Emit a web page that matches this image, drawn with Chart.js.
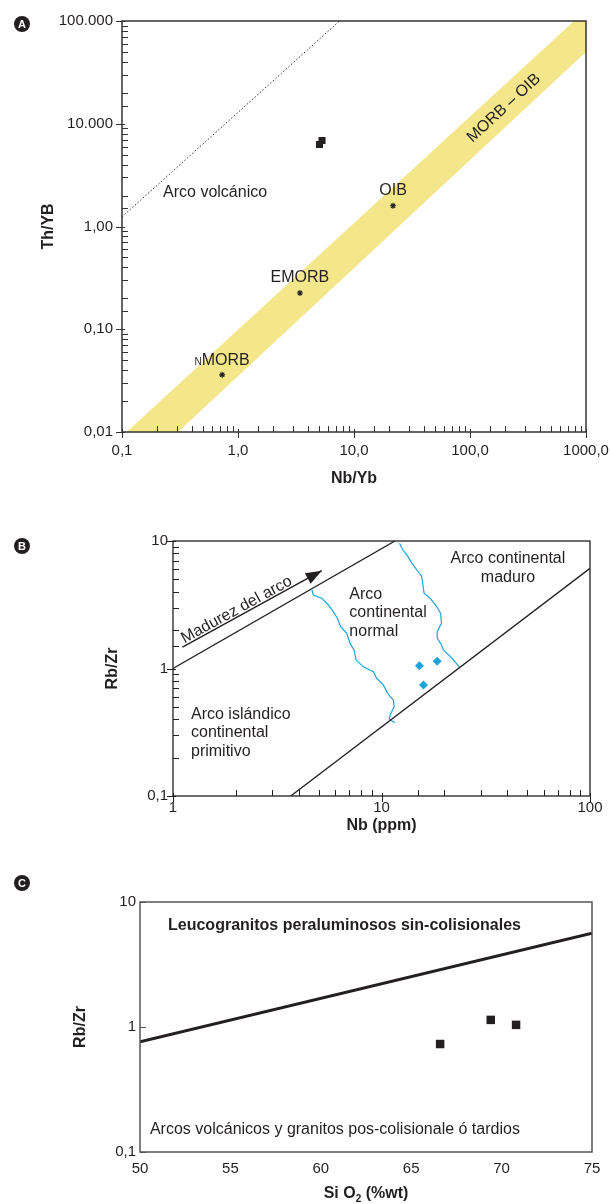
<!DOCTYPE html>
<html>
<head>
<meta charset="utf-8">
<script src="https://cdn.jsdelivr.net/npm/chart.js@4.4.1/dist/chart.umd.min.js"></script>
<style>
  html, body { margin: 0; padding: 0; background: #fff; }
  body { width: 610px; height: 1204px; position: relative; overflow: hidden; }
  canvas { position: absolute; left: 0; }
</style>
</head>
<body>
<canvas id="chartA" width="610" height="500" style="top:0"></canvas>
<canvas id="chartB" width="610" height="340" style="top:500px"></canvas>
<canvas id="chartC" width="610" height="364" style="top:840px"></canvas>
<script>
// ---- Panel A: Th/Yb vs Nb/Yb
const aSamples = [{ x: 5.04, y: 6.28 }, { x: 5.30, y: 6.87 }]
const aRefNames = ['OIB', 'EMORB', 'NMORB']
const aRefPoints = [{ x: 21.7, y: 1.59 }, { x: 3.42, y: 0.225 }, { x: 0.73, y: 0.036 }]
const aBandUpper = [{ x: 0.1, y: 0.0091 }, { x: 1000, y: 128 }]
const aBandLower = [{ x: 0.1, y: 0.0031 }, { x: 1000, y: 50 }]
const aArcLimit = [{ x: 0.1, y: 1.24 }, { x: 7.5, y: 100 }]
const aXTicks = [0.1, 1, 10, 100, 1000]
const aXLabels = ['0,1', '1,0', '10,0', '100,0', '1000,0']
const aYTicks = [0.01, 0.1, 1, 10, 100]
const aYLabels = ['0,01', '0,10', '1,00', '10.000', '100.000']

// ---- Panel B: Rb/Zr vs Nb
const bSamples = [{ x: 15.2, y: 1.05 }, { x: 18.5, y: 1.14 }, { x: 15.9, y: 0.743 }]
const bUpperLine = [{ x: 1, y: 1 }, { x: 11.6, y: 10 }]
const bLowerLine = [{ x: 3.67, y: 0.1 }, { x: 100, y: 6.1 }]
const bArrow = [{ x: 1.11, y: 1.47 }, { x: 5.17, y: 5.85 }]
const bBoundaryNormal = [
  { x: 4.64, y: 4.13 }, { x: 4.71, y: 3.77 }, { x: 5.17, y: 3.56 }, { x: 5.56, y: 3.15 },
  { x: 5.87, y: 2.79 }, { x: 6.14, y: 2.48 }, { x: 6.37, y: 2.13 }, { x: 6.81, y: 1.89 },
  { x: 7.06, y: 1.58 }, { x: 7.38, y: 1.40 }, { x: 7.55, y: 1.17 }, { x: 8.18, y: 1.03 },
  { x: 9.14, y: 0.944 }, { x: 9.48, y: 0.838 }, { x: 10.2, y: 0.743 }, { x: 10.7, y: 0.639 },
  { x: 11.4, y: 0.566 }, { x: 11.5, y: 0.501 }, { x: 11.0, y: 0.431 }, { x: 10.9, y: 0.400 },
  { x: 11.6, y: 0.376 }
]
const bBoundaryMature = [
  { x: 12.2, y: 9.6 }, { x: 12.6, y: 8.61 }, { x: 13.4, y: 7.54 }, { x: 14.0, y: 6.68 },
  { x: 15.0, y: 5.74 }, { x: 15.6, y: 5.25 }, { x: 15.8, y: 4.52 }, { x: 16.0, y: 3.89 },
  { x: 17.1, y: 3.56 }, { x: 18.4, y: 3.06 }, { x: 19.2, y: 2.71 }, { x: 19.4, y: 2.26 },
  { x: 18.5, y: 1.95 }, { x: 18.5, y: 1.73 }, { x: 19.4, y: 1.53 }, { x: 19.8, y: 1.40 },
  { x: 21.3, y: 1.25 }, { x: 22.5, y: 1.13 }, { x: 23.6, y: 1.03 }
]
const bXTicks = [1, 10, 100]
const bXLabels = ['1', '10', '100']
const bYTicks = [0.1, 1, 10]
const bYLabels = ['0,1', '1', '10']

// ---- Panel C: Rb/Zr vs SiO2
const cSamples = [{ x: 66.6, y: 0.731 }, { x: 69.4, y: 1.14 }, { x: 70.8, y: 1.04 }]
const cDivider = [{ x: 50, y: 0.762 }, { x: 75, y: 5.62 }]
const cXTicks = [50, 55, 60, 65, 70, 75]
const cXLabels = ['50', '55', '60', '65', '70', '75']
const cYTicks = [0.1, 1, 10]
const cYLabels = ['0,1', '1', '10']

const FONT = '"Liberation Sans", Arial, Helvetica, sans-serif'
const INK = '#231f20'
const CYAN = '#1ea4dc'

function labelFor(values, labels) {
  return v => {
    const i = values.findIndex(t => Math.abs(t - v) < t * 1e-6)
    return i < 0 ? '' : labels[i]
  }
}

function isDecade(v) {
  const e = Math.log10(v)
  return Math.abs(e - Math.round(e)) < 1e-6
}

function pix(chart, p) {
  return { x: chart.scales.x.getPixelForValue(p.x), y: chart.scales.y.getPixelForValue(p.y) }
}

function put(ctx, str, x, y, font, align, rot) {
  ctx.save()
  ctx.font = font
  ctx.textAlign = align || 'center'
  ctx.textBaseline = 'middle'
  ctx.translate(x, y)
  if (rot) ctx.rotate(rot)
  ctx.fillText(str, 0, 0)
  ctx.restore()
}

// plot box, tick marks, axis titles and the letter badge
function drawFrame(chart, o) {
  const { ctx, chartArea: a, scales: { x, y } } = chart
  ctx.save()
  ctx.strokeStyle = o.color
  ctx.lineWidth = 1
  ctx.beginPath()
  if (o.minor) {
    x.ticks.forEach(t => {
      const px = Math.round(x.getPixelForValue(t.value)) + 0.5
      if (isDecade(t.value)) { ctx.moveTo(px, a.bottom + 6); ctx.lineTo(px, a.bottom - 3) }
      else { ctx.moveTo(px, a.bottom); ctx.lineTo(px, a.bottom - 6) }
    })
    y.ticks.forEach(t => {
      const py = Math.round(y.getPixelForValue(t.value)) + 0.5
      if (isDecade(t.value)) { ctx.moveTo(a.left - 6, py); ctx.lineTo(a.left + 3, py) }
      else { ctx.moveTo(a.left, py); ctx.lineTo(a.left + 6, py) }
    })
  } else {
    y.ticks.forEach(t => {
      if (!isDecade(t.value)) return
      const py = Math.round(y.getPixelForValue(t.value)) + 0.5
      ctx.moveTo(a.left, py); ctx.lineTo(a.left + 6, py)
    })
  }
  ctx.stroke()
  ctx.lineWidth = o.width
  ctx.strokeRect(a.left, a.top, a.right - a.left, a.bottom - a.top)

  ctx.fillStyle = INK
  ctx.beginPath()
  ctx.arc(o.badge.x, o.badge.y, 8, 0, Math.PI * 2)
  ctx.fill()
  ctx.fillStyle = '#fff'
  put(ctx, o.badge.text, o.badge.x, o.badge.y + 0.5, `bold 11px ${FONT}`)

  ctx.fillStyle = INK
  const bold = `bold 16px ${FONT}`
  if (o.xTitle) put(ctx, o.xTitle, (a.left + a.right) / 2, a.bottom + o.xTitleGap, bold)
  put(ctx, o.yTitle, o.yTitleX, (a.top + a.bottom) / 2, bold, 'center', -Math.PI / 2)
  ctx.restore()
}

function axes(xType, xMin, xMax, xTicks, xLabels, xPad, xHeight, yMin, yMax, yTicks, yLabels, yPad, yWidth) {
  const tickFont = { family: FONT, size: 15 }
  const x = {
    type: xType, min: xMin, max: xMax,
    grid: { display: false, drawTicks: false },
    border: { display: false },
    ticks: { autoSkip: false, maxRotation: 0, color: INK, font: tickFont, padding: xPad, callback: labelFor(xTicks, xLabels) },
    afterFit: s => { s.height = xHeight; s.paddingLeft = 0; s.paddingRight = 0 }
  }
  if (xType === 'linear') x.ticks.stepSize = 5
  const y = {
    type: 'logarithmic', min: yMin, max: yMax,
    grid: { display: false, drawTicks: false },
    border: { display: false },
    ticks: { autoSkip: false, color: INK, font: tickFont, padding: yPad, callback: labelFor(yTicks, yLabels) },
    afterFit: s => { s.width = yWidth; s.paddingTop = 0; s.paddingBottom = 0 }
  }
  return { x, y }
}

const common = {
  responsive: false,
  animation: false,
  events: [],
  plugins: { legend: { display: false }, tooltip: { enabled: false } }
}

// ---------- Chart A
// higher "order" is painted first, so the band sits underneath the marks
new Chart(document.getElementById('chartA'), {
  type: 'scatter',
  data: {
    datasets: [
      { data: aBandUpper, order: 4, showLine: true, borderWidth: 0, pointRadius: 0, fill: '+1', backgroundColor: '#f3e68b' },
      { data: aBandLower, order: 4, showLine: true, borderWidth: 0, pointRadius: 0, fill: false },
      { data: aArcLimit, order: 3, showLine: true, borderColor: '#333', borderWidth: 1, borderDash: [1.5, 2], pointRadius: 0 },
      {
        data: aRefPoints, order: 2, pointStyle: 'star', pointRadius: 3,
        pointBorderColor: INK, pointBackgroundColor: INK, pointBorderWidth: 1.1
      },
      { data: aSamples, order: 1, pointStyle: 'rect', pointRadius: 5, pointBackgroundColor: INK, pointBorderWidth: 0 }
    ]
  },
  options: {
    ...common,
    layout: { padding: { left: 0, right: 24, top: 21, bottom: 0 } },
    scales: axes('logarithmic', 0.1, 1000, aXTicks, aXLabels, 10, 68, 0.01, 100, aYTicks, aYLabels, 9, 122)
  },
  plugins: [{
    id: 'annotA',
    afterDatasetsDraw(chart) {
      const { ctx, scales: { x, y } } = chart
      ctx.save()
      ctx.fillStyle = INK
      const f = `16px ${FONT}`
      put(ctx, 'Arco volcánico', x.getPixelForValue(0.226), y.getPixelForValue(2.12), f, 'left')
      aRefNames.forEach((name, i) => {
        const p = pix(chart, aRefPoints[i])
        if (name === 'NMORB') {
          ctx.font = f
          const wM = ctx.measureText('MORB').width
          ctx.font = `10px ${FONT}`
          const wN = ctx.measureText('N').width
          const left = p.x - (wM + wN) / 2
          ctx.textAlign = 'left'
          ctx.textBaseline = 'alphabetic'
          ctx.fillText('N', left, p.y - 9.5)
          ctx.font = f
          ctx.fillText('MORB', left + wN, p.y - 9.5)
        } else {
          put(ctx, name, p.x, p.y - 15, f)
        }
      })
      const p0 = pix(chart, aBandUpper[0]), p1 = pix(chart, aBandUpper[1])
      const ang = Math.atan2(p1.y - p0.y, p1.x - p0.x)
      put(ctx, 'MORB – OIB', x.getPixelForValue(196), y.getPixelForValue(14.2), f, 'center', ang)
      ctx.restore()
    },
    afterDraw(chart) {
      drawFrame(chart, {
        color: '#333', width: 1.5, minor: true,
        badge: { x: 22, y: 24, text: 'A' },
        xTitle: 'Nb/Yb', xTitleGap: 47, yTitle: 'Th/YB', yTitleX: 49
      })
    }
  }]
})

// ---------- Chart B
new Chart(document.getElementById('chartB'), {
  type: 'scatter',
  data: {
    datasets: [
      { data: bUpperLine, showLine: true, borderColor: INK, borderWidth: 1.3, pointRadius: 0 },
      { data: bLowerLine, showLine: true, borderColor: INK, borderWidth: 1.3, pointRadius: 0 },
      { data: bArrow, showLine: true, borderColor: INK, borderWidth: 1.4, pointRadius: 0 },
      { data: bBoundaryNormal, showLine: true, borderColor: CYAN, borderWidth: 1.2, pointRadius: 0 },
      { data: bBoundaryMature, showLine: true, borderColor: CYAN, borderWidth: 1.2, pointRadius: 0 },
      { data: bSamples, pointStyle: 'rectRot', pointRadius: 4.5, pointBackgroundColor: CYAN, pointBorderWidth: 0 }
    ]
  },
  options: {
    ...common,
    layout: { padding: { left: 0, right: 20, top: 41, bottom: 0 } },
    scales: axes('logarithmic', 1, 100, bXTicks, bXLabels, 3, 44, 0.1, 10, bYTicks, bYLabels, 5, 173)
  },
  plugins: [{
    id: 'annotB',
    afterDatasetsDraw(chart) {
      const { ctx, scales: { x, y } } = chart
      ctx.save()
      ctx.fillStyle = INK
      // arrow head at the end of the maturity arrow
      const p0 = pix(chart, bArrow[0]), p1 = pix(chart, bArrow[1])
      const ang = Math.atan2(p1.y - p0.y, p1.x - p0.x)
      ctx.save()
      ctx.translate(p1.x, p1.y)
      ctx.rotate(ang)
      ctx.beginPath()
      ctx.moveTo(0, 0); ctx.lineTo(-16, -6); ctx.lineTo(-16, 6); ctx.closePath()
      ctx.fill()
      ctx.restore()

      const f = `16px ${FONT}`
      put(ctx, 'Madurez del arco', x.getPixelForValue(2.02), y.getPixelForValue(2.88), f, 'center', ang)
      const lh = 18.7
      const block = (lines, vx, vy, align) => {
        const px = x.getPixelForValue(vx), py = y.getPixelForValue(vy)
        lines.forEach((s, i) => put(ctx, s, px, py + i * lh, f, align))
      }
      block(['Arco continental', 'maduro'], 40.4, 7.23, 'center')
      block(['Arco', 'continental', 'normal'], 7.01, 3.82, 'left')
      block(['Arco islándico', 'continental', 'primitivo'], 1.22, 0.437, 'left')
      ctx.restore()
    },
    afterDraw(chart) {
      drawFrame(chart, {
        color: INK, width: 1.3, minor: true,
        badge: { x: 22, y: 46, text: 'B' },
        xTitle: 'Nb (ppm)', xTitleGap: 30, yTitle: 'Rb/Zr', yTitleX: 113
      })
    }
  }]
})

// ---------- Chart C
new Chart(document.getElementById('chartC'), {
  type: 'scatter',
  data: {
    datasets: [
      { data: cDivider, showLine: true, borderColor: INK, borderWidth: 3, pointRadius: 0 },
      { data: cSamples, pointStyle: 'rect', pointRadius: 6, pointBackgroundColor: INK, pointBorderWidth: 0 }
    ]
  },
  options: {
    ...common,
    layout: { padding: { left: 0, right: 18, top: 62, bottom: 0 } },
    scales: axes('linear', 50, 75, cXTicks, cXLabels, 8, 52, 0.1, 10, cYTicks, cYLabels, 4, 140)
  },
  plugins: [{
    id: 'annotC',
    afterDatasetsDraw(chart) {
      const { ctx, scales: { x, y } } = chart
      ctx.save()
      ctx.fillStyle = INK
      put(ctx, 'Leucogranitos peraluminosos sin-colisionales', x.getPixelForValue(51.55), y.getPixelForValue(6.43), `bold 16px ${FONT}`, 'left')
      put(ctx, 'Arcos volcánicos y granitos pos-colisionale ó tardios', x.getPixelForValue(50.55), y.getPixelForValue(0.15), `16px ${FONT}`, 'left')
      ctx.restore()
    },
    afterDraw(chart) {
      const { ctx, chartArea: a } = chart
      drawFrame(chart, {
        color: '#555', width: 1.5, minor: false,
        badge: { x: 22, y: 43, text: 'C' },
        yTitle: 'Rb/Zr', yTitleX: 81
      })
      // x title with subscript
      ctx.save()
      ctx.fillStyle = INK
      const big = `bold 16px ${FONT}`, small = `bold 10px ${FONT}`
      ctx.font = big
      const w1 = ctx.measureText('Si O').width, w3 = ctx.measureText(' (%wt)').width
      ctx.font = small
      const w2 = ctx.measureText('2').width
      const left = (a.left + a.right) / 2 - (w1 + w2 + w3) / 2
      const base = a.bottom + 46
      ctx.textAlign = 'left'
      ctx.textBaseline = 'alphabetic'
      ctx.font = big
      ctx.fillText('Si O', left, base)
      ctx.font = small
      ctx.fillText('2', left + w1, base + 4)
      ctx.font = big
      ctx.fillText(' (%wt)', left + w1 + w2, base)
      ctx.restore()
    }
  }]
})
</script>
</body>
</html>
